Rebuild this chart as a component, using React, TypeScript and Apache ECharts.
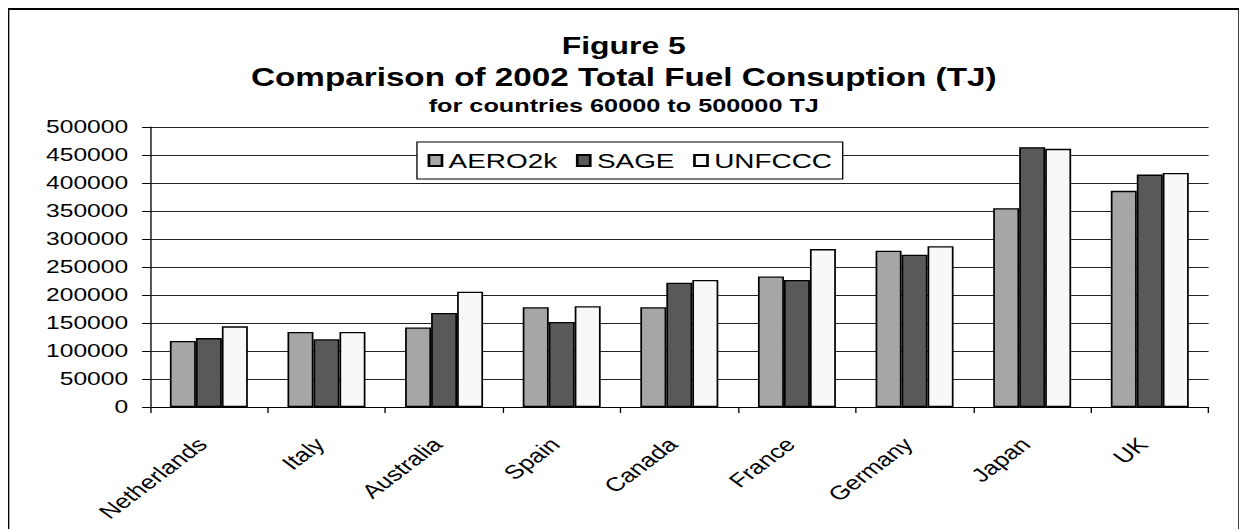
import React, { useEffect, useRef } from "react";
import * as echarts from "echarts";

const categories = ["Netherlands", "Italy", "Australia", "Spain", "Canada", "France", "Germany", "Japan", "UK"];
const aero2k = [118000, 134000, 142000, 178000, 178000, 233000, 279000, 355000, 386000];
const sage = [123000, 121000, 168000, 152000, 222000, 227000, 272000, 464000, 415000];
const unfccc = [144000, 134000, 206000, 180000, 227000, 282000, 287000, 461000, 418000];
const seriesNames = ["AERO2k", "SAGE", "UNFCCC"];
const seriesColors = ["#a6a6a6", "#595959", "#f8f8f8"];
const titleLines = [
  "Figure 5",
  "Comparison of 2002 Total Fuel Consuption (TJ)",
  "for countries 60000 to 500000 TJ",
];

const S = 1.33;
const W = 1231 / S;
const H = 521;
const FONT = "'Liberation Sans', Arial, sans-serif";

export default function App() {
  const ref = useRef<HTMLDivElement>(null);
  useEffect(() => {
    document.documentElement.style.overflow = "hidden";
    document.body.style.overflow = "hidden";
    if (!ref.current) return;
    const chart = echarts.init(ref.current, null, { renderer: "svg" });
    const seriesData = [aero2k, sage, unfccc];
    chart.setOption({
      animation: false,
      backgroundColor: "#fff",
      title: [
        { text: titleLines[0], left: "center", top: 25, padding: 0,
          textStyle: { fontFamily: FONT, fontWeight: "bold", fontSize: 24, color: "#000" } },
        { text: titleLines[1], left: "center", top: 56.5, padding: 0,
          textStyle: { fontFamily: FONT, fontWeight: "bold", fontSize: 25, color: "#000" } },
        { text: titleLines[2], left: "center", top: 88, padding: 0,
          textStyle: { fontFamily: FONT, fontWeight: "bold", fontSize: 19, color: "#000" } },
      ],
      legend: {
        data: seriesNames,
        left: 307.5,
        top: 134,
        padding: [8, 8],
        itemGap: 14,
        itemWidth: 9.8,
        itemHeight: 11,
        icon: "rect",
        backgroundColor: "#fff",
        borderColor: "#000",
        borderWidth: 1,
        textStyle: { fontFamily: FONT, fontSize: 21, color: "#000" },
      },
      grid: {
        left: 106.8, right: 23.3, top: 119, bottom: H - 399,
        containLabel: false, outerBoundsMode: "none",
      },
      xAxis: {
        type: "category",
        data: categories,
        axisLine: { lineStyle: { color: "#000", width: 1 } },
        axisTick: { show: true, length: 6, lineStyle: { color: "#000" } },
        axisLabel: {
          rotate: 45, margin: 29, padding: [0, 7, 0, 0],
          fontFamily: FONT, fontSize: 19.5, color: "#000", interval: 0,
        },
      },
      yAxis: {
        type: "value",
        min: 0,
        max: 500000,
        interval: 50000,
        axisLine: { show: true, lineStyle: { color: "#000", width: 1 } },
        axisTick: { show: true, length: 6, lineStyle: { color: "#000" } },
        axisLabel: {
          margin: 16.5, fontFamily: FONT, fontSize: 18.5, color: "#000",
          formatter: (v: number) => String(v),
        },
        splitLine: { show: true, lineStyle: { color: "#222", width: 1 } },
      },
      series: seriesNames.map((name, i) => ({
        name,
        type: "bar",
        data: seriesData[i],
        barGap: "0%",
        barCategoryGap: "33.7%",
        itemStyle: { color: seriesColors[i], borderColor: "#000", borderWidth: 1.3 },
      })),
    });
    return () => chart.dispose();
  }, []);

  return (
    <div
      style={{
        position: "relative",
        width: W,
        height: H,
        transform: `scaleX(${S})`,
        transformOrigin: "0 0",
        background: "#fff",
      }}
    >
      <div ref={ref} style={{ position: "absolute", left: 0, top: 0, width: W, height: H }} />
      <div
        style={{
          position: "absolute",
          left: 0,
          top: 0,
          width: W,
          height: H,
          boxSizing: "border-box",
          borderTop: "2px solid #000",
          borderLeft: "1.5px solid #000",
          borderRight: "1.5px solid #000",
          pointerEvents: "none",
        }}
      />
    </div>
  );
}
